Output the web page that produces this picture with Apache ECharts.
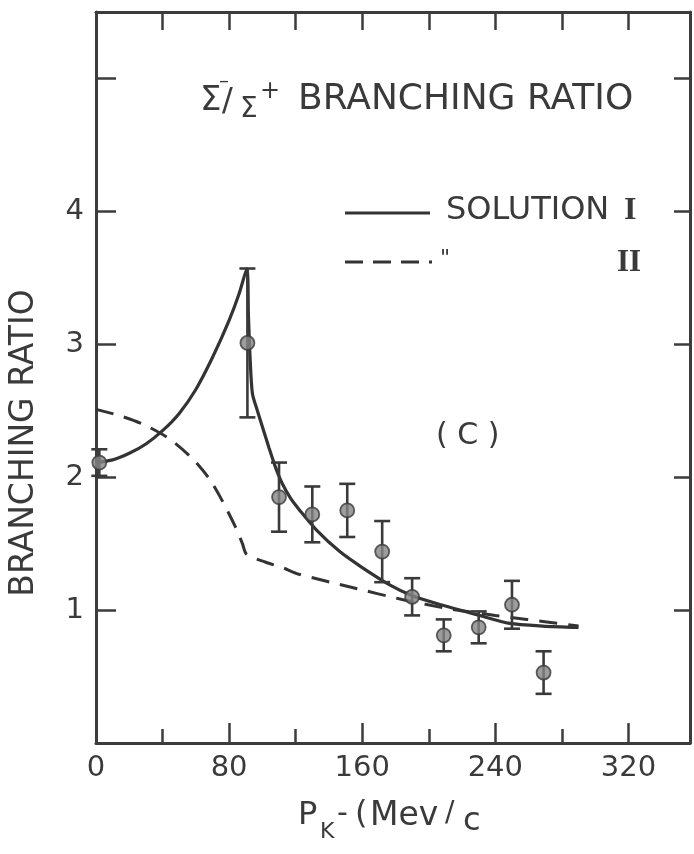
<!DOCTYPE html>
<html>
<head>
<meta charset="utf-8">
<script src="https://cdn.jsdelivr.net/npm/echarts@6/dist/echarts.min.js"></script>
<style>
  html, body { margin: 0; padding: 0; background: #ffffff; }
  #chart { width: 694px; height: 854px; }
</style>
</head>
<body>
<div id="chart"></div>
<script>
// Measured Σ-/Σ+ branching ratio vs kaon momentum (MeV/c)
const momentum = [2, 91, 110, 130, 151, 172, 190, 209, 230, 250, 269];
const ratio    = [2.11, 3.01, 1.85, 1.72, 1.75, 1.44, 1.10, 0.81, 0.87, 1.04, 0.53];
const ratioErr = [0.10, 0.56, 0.26, 0.21, 0.20, 0.23, 0.14, 0.12, 0.12, 0.18, 0.16];

// Fitted curve, solution I
const solutionIMomentum = [0, 10, 20, 30, 40, 50, 60, 70, 80, 86, 90.7, 91.6, 92.6, 94, 97, 100, 104, 108, 112, 117, 122.5, 132.7, 146.5, 160, 176.5, 189.7, 204.7, 230.5, 248.6, 268.4, 290];
const solutionIRatio    = [2.11, 2.13, 2.18, 2.25, 2.35, 2.48, 2.66, 2.90, 3.18, 3.38, 3.57, 3.22, 2.90, 2.63, 2.50, 2.38, 2.22, 2.07, 1.95, 1.84, 1.75, 1.60, 1.44, 1.32, 1.19, 1.11, 1.05, 0.96, 0.90, 0.88, 0.87];

// Fitted curve, solution II
const solutionIIMomentum = [0, 15, 28, 44, 58, 68, 76, 84, 88, 90.5, 102, 112, 122, 154, 184, 212, 240, 259, 290];
const solutionIIRatio    = [2.51, 2.46, 2.40, 2.29, 2.14, 1.99, 1.82, 1.62, 1.50, 1.42, 1.36, 1.32, 1.27, 1.17, 1.08, 1.01, 0.96, 0.93, 0.88];

// Axis tick labels
const xTickLabels = [0, 80, 160, 240, 320];
const yTickLabels = [1, 2, 3, 4];

const INK = '#333333';
const TEXT = '#3a3a3a';
const FONT = '"DejaVu Sans", sans-serif';

const zip = (xs, ys) => xs.map((x, i) => [x, ys[i]]);
const errorRows = momentum.map((x, i) => [x, ratio[i] - ratioErr[i], ratio[i] + ratioErr[i]]);

const chart = echarts.init(document.getElementById('chart'), null, { renderer: 'canvas' });

const frameLine = { show: true, onZero: false, lineStyle: { color: '#3c3c3c', width: 3 } };
const tickStyle = { color: '#3c3c3c', width: 2.5 };

chart.setOption({
  animation: false,
  backgroundColor: '#ffffff',
  grid: { left: 96, right: 4, top: 12, bottom: 111, containLabel: false },
  xAxis: [
    {
      // bottom frame: short ticks every 40, labels every 80
      type: 'value', position: 'bottom', min: 0, max: 357, interval: 40,
      axisLine: frameLine,
      axisTick: { show: true, inside: true, length: 14, lineStyle: tickStyle },
      axisLabel: {
        show: true, margin: 11, fontSize: 29, color: TEXT, fontFamily: FONT,
        formatter: v => (xTickLabels.includes(v) ? String(v) : '')
      },
      splitLine: { show: false }
    },
    {
      type: 'value', position: 'top', min: 0, max: 357, interval: 40,
      axisLine: frameLine,
      axisTick: { show: true, inside: true, length: 18, lineStyle: tickStyle },
      axisLabel: { show: false },
      splitLine: { show: false }
    },
    {
      // longer ticks at the labelled values
      type: 'value', position: 'bottom', min: 0, max: 357, interval: 80,
      axisLine: { show: false, onZero: false },
      axisTick: { show: true, inside: true, length: 20, lineStyle: tickStyle },
      axisLabel: { show: false },
      splitLine: { show: false }
    }
  ],
  yAxis: [
    {
      type: 'value', position: 'left', min: 0, max: 5.5, interval: 1,
      axisLine: frameLine,
      axisTick: { show: true, inside: true, length: 20, lineStyle: tickStyle },
      axisLabel: {
        show: true, margin: 12, fontSize: 29, color: TEXT, fontFamily: FONT,
        formatter: v => (yTickLabels.includes(v) ? String(v) : '')
      },
      splitLine: { show: false }
    },
    {
      type: 'value', position: 'right', min: 0, max: 5.5, interval: 1,
      axisLine: frameLine,
      axisTick: { show: true, inside: true, length: 16, lineStyle: tickStyle },
      axisLabel: { show: false },
      splitLine: { show: false }
    }
  ],
  series: [
    {
      name: 'Solution I', type: 'line', xAxisIndex: 0, yAxisIndex: 0,
      data: zip(solutionIMomentum, solutionIRatio),
      showSymbol: false, smooth: 0.25,
      lineStyle: { color: INK, width: 3.2 },
      z: 3
    },
    {
      name: 'Solution II', type: 'line', xAxisIndex: 0, yAxisIndex: 0,
      data: zip(solutionIIMomentum, solutionIIRatio),
      showSymbol: false, smooth: 0.25,
      lineStyle: { color: INK, width: 3, type: [18, 11] },
      z: 3
    },
    {
      name: 'errors', type: 'custom', xAxisIndex: 0, yAxisIndex: 0,
      data: errorRows,
      renderItem: (params, api) => {
        const x = api.value(0);
        const lo = api.coord([x, api.value(1)]);
        const hi = api.coord([x, api.value(2)]);
        const half = 8;
        const style = { stroke: '#3a3a3a', lineWidth: 2.6 };
        return {
          type: 'group',
          children: [
            { type: 'line', shape: { x1: lo[0], y1: lo[1], x2: hi[0], y2: hi[1] }, style },
            { type: 'line', shape: { x1: hi[0] - half, y1: hi[1], x2: hi[0] + half, y2: hi[1] }, style },
            { type: 'line', shape: { x1: lo[0] - half, y1: lo[1], x2: lo[0] + half, y2: lo[1] }, style }
          ]
        };
      },
      z: 4
    },
    {
      name: 'data', type: 'scatter', xAxisIndex: 0, yAxisIndex: 0,
      data: zip(momentum, ratio),
      symbol: 'circle', symbolSize: 14,
      itemStyle: { color: '#858585', borderColor: '#3a3a3a', borderWidth: 1.8 },
      z: 5
    }
  ],
  graphic: [
    // Plot title: Σ-/Σ+ BRANCHING RATIO
    { type: 'text', left: 200, top: 84, style: { text: 'Σ', font: '34px ' + FONT, fill: TEXT } },
    { type: 'text', left: 219, top: 72, style: { text: '–', font: '20px ' + FONT, fill: TEXT } },
    { type: 'text', left: 222, top: 86, style: { text: '/', font: '32px ' + FONT, fill: TEXT } },
    { type: 'text', left: 240, top: 96, style: { text: 'Σ', font: '28px ' + FONT, fill: TEXT } },
    { type: 'text', left: 260, top: 80, style: { text: '+', font: '24px ' + FONT, fill: TEXT } },
    { type: 'text', left: 298, top: 82, style: { text: 'BRANCHING RATIO', font: '36px ' + FONT, fill: TEXT } },

    // Legend
    { type: 'line', shape: { x1: 345, y1: 213, x2: 430, y2: 213 }, style: { stroke: INK, lineWidth: 3 } },
    { type: 'text', left: 446, top: 195, style: { text: 'SOLUTION', font: '32px ' + FONT, fill: TEXT } },
    { type: 'text', left: 624, top: 195, style: { text: 'I', font: 'bold 32px "Liberation Serif", serif', fill: TEXT } },
    { type: 'line', shape: { x1: 345, y1: 262, x2: 432, y2: 262 }, style: { stroke: INK, lineWidth: 3, lineDash: [18, 10] } },
    { type: 'text', left: 440, top: 248, style: { text: '"', font: '22px ' + FONT, fill: TEXT } },
    { type: 'text', left: 617, top: 247, style: { text: 'II', font: 'bold 31px "Liberation Serif", serif', fill: TEXT } },

    // Panel tag
    { type: 'text', left: 436, top: 421, style: { text: '( C )', font: '30px ' + FONT, fill: TEXT } },

    // Y axis title
    {
      type: 'text', x: 24, y: 443, rotation: Math.PI / 2,
      style: { text: 'BRANCHING RATIO', font: '33px ' + FONT, fill: TEXT, textAlign: 'center', textVerticalAlign: 'middle' }
    },

    // X axis title: P_K- (MeV/c
    { type: 'text', left: 298, top: 800, style: { text: 'P', font: '32px ' + FONT, fill: TEXT } },
    { type: 'text', left: 320, top: 821, style: { text: 'K', font: '22px ' + FONT, fill: TEXT } },
    { type: 'text', left: 337, top: 799, style: { text: '-', font: '30px ' + FONT, fill: TEXT } },
    { type: 'text', left: 355, top: 799, style: { text: '(', font: '32px ' + FONT, fill: TEXT } },
    { type: 'text', left: 370, top: 800, style: { text: 'Mev', font: '33px ' + FONT, fill: TEXT } },
    { type: 'text', left: 445, top: 800, style: { text: '/', font: '28px ' + FONT, fill: TEXT } },
    { type: 'text', left: 463, top: 806, style: { text: 'c', font: '32px ' + FONT, fill: TEXT } }
  ]
});
</script>
</body>
</html>
